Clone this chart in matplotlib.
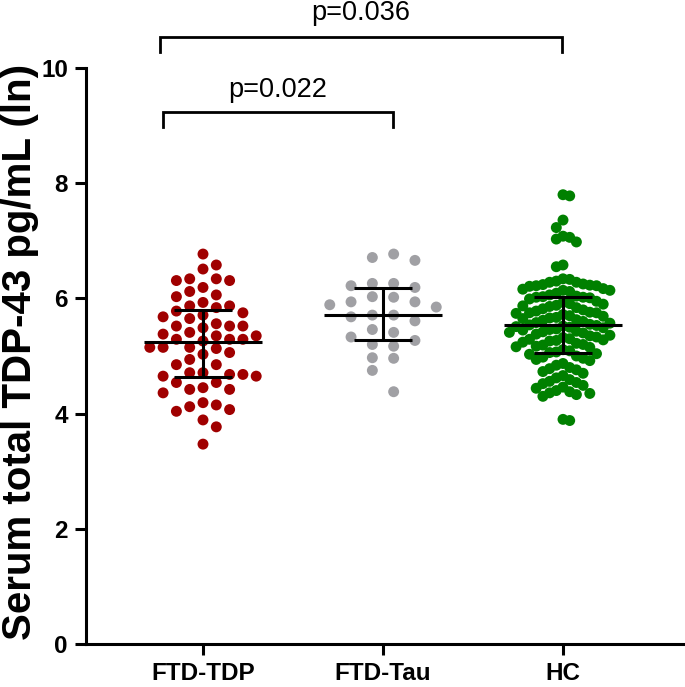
import matplotlib
matplotlib.use("Agg")
import matplotlib.pyplot as plt
import numpy as np

plt.rcParams['font.family'] = ['Liberation Sans', 'DejaVu Sans']

categories = ["FTD-TDP", "FTD-Tau", "HC"]

ftd_tdp = [6.77, 6.58, 6.51, 6.34, 6.34, 6.31, 6.31, 6.19, 6.12, 6.06, 6.03, 5.93,
           5.87, 5.87, 5.84, 5.78, 5.75, 5.71, 5.68, 5.65, 5.56, 5.52, 5.52, 5.52,
           5.49, 5.41, 5.38, 5.35, 5.35, 5.29, 5.29, 5.29, 5.26, 5.15, 5.13, 5.15,
           5.15, 5.06, 5.03, 4.94, 4.85, 4.85, 4.71, 4.71, 4.68, 4.68, 4.65, 4.65,
           4.54, 4.54, 4.45, 4.42, 4.42, 4.36, 4.19, 4.15, 4.12, 4.07, 4.04, 3.89,
           3.77, 3.47]

ftd_tau = [6.77, 6.71, 6.66, 6.26, 6.26, 6.22, 6.19, 6.03, 6.02, 5.94, 5.94, 5.89,
           5.85, 5.71, 5.71, 5.68, 5.61, 5.46, 5.41, 5.33, 5.27, 5.20, 5.17, 4.97,
           4.96, 4.75, 4.38]

hc = [7.80, 7.78, 7.36, 7.23, 7.08, 7.06, 7.03, 6.98, 6.58, 6.55, 6.34,
      6.33, 6.30, 6.28, 6.28, 6.25, 6.24, 6.23, 6.22, 6.22, 6.21,
      6.17, 6.16, 6.14, 6.14, 6.12, 6.09,
      6.06, 6.04, 6.03, 6.02, 6.02, 6.01, 5.99,
      5.95, 5.93, 5.91, 5.90, 5.88, 5.87, 5.86,
      5.84, 5.82, 5.80, 5.78, 5.76, 5.75, 5.75, 5.74,
      5.72, 5.70, 5.69, 5.67, 5.66, 5.65, 5.63, 5.62,
      5.60, 5.58, 5.57, 5.55, 5.54, 5.53, 5.52, 5.51, 5.50,
      5.49, 5.47, 5.46, 5.45, 5.43, 5.42, 5.41, 5.40, 5.38,
      5.36, 5.35, 5.33, 5.32, 5.30, 5.29, 5.28, 5.27, 5.26,
      5.24, 5.22, 5.20, 5.19, 5.17, 5.16, 5.15,
      5.11, 5.09, 5.07, 5.06, 5.04, 5.03,
      5.00, 4.98, 4.96, 4.94, 4.92,
      4.87, 4.84, 4.80, 4.78, 4.76,
      4.73, 4.70, 4.66, 4.62,
      4.59, 4.56, 4.54, 4.52, 4.49,
      4.46, 4.44, 4.40, 4.38, 4.36, 4.35, 4.33, 4.30,
      3.90, 3.88]

# median and interquartile range
medians = [5.25, 5.72, 5.53]
q_low = [4.64, 5.27, 5.05]
q_high = [5.79, 6.18, 6.03]

comparisons = [("p=0.022", 0, 1), ("p=0.036", 0, 2)]

colors = ["#A00000", "#A0A0A4", "#008000"]

# ---------------- layout ----------------
W, H = 685, 687
ax_left_px = 86
ax_bottom_px = 644
px_per_x = 180.0
px_per_y = 57.6
x0 = -(203 - ax_left_px) / px_per_x
x1 = x0 + (W - ax_left_px) / px_per_x
ytop = ax_bottom_px / px_per_y

fig = plt.figure(figsize=(W / 100, H / 100), dpi=100)
ax = fig.add_axes([ax_left_px / W, (H - ax_bottom_px) / H, (W - ax_left_px) / W, ax_bottom_px / H])
ax.set_xlim(x0, x1)
ax.set_ylim(0, ytop)


def swarm_offsets(values, dx_px, dmin_px, half=False):
    """Greedy grid beeswarm: each point takes the free column nearest the centre."""
    vals = np.asarray(values, dtype=float)
    order = np.argsort(-vals, kind="stable")
    placed = {}
    offs = np.zeros(len(vals))
    sign = 1
    for i in order:
        y = vals[i] * px_per_y
        cands = []
        for k in range(0, 40):
            if half:
                cands += [sign * (k + 0.5), -sign * (k + 0.5)]
            else:
                cands += [0] if k == 0 else [sign * k, -sign * k]
        for c in cands:
            col = placed.get(c, [])
            if all(abs(py - y) >= dmin_px for py in col):
                break
        placed.setdefault(c, []).append(y)
        offs[i] = c * dx_px / px_per_x
        if c != 0:
            sign = -sign
    return offs


groups = [ftd_tdp, ftd_tau, hc]
params = [(13.3, 12.0, False), (21.3, 12.0, True), (6.7, 11.0, False)]
for gi, (vals, (dx, dmin, half)) in enumerate(zip(groups, params)):
    offs = swarm_offsets(vals, dx, dmin, half)
    ax.scatter(gi + offs, vals, s=62, color=colors[gi], edgecolors="none", zorder=2)

# median + IQR
mw, cw = 0.33, 0.16
for gi in range(3):
    ax.plot([gi - mw, gi + mw], [medians[gi]] * 2, color="black", lw=2.2, zorder=3, solid_capstyle="butt")
    ax.plot([gi, gi], [q_low[gi], q_high[gi]], color="black", lw=2.2, zorder=3, solid_capstyle="butt")
    for q in (q_low[gi], q_high[gi]):
        ax.plot([gi - cw, gi + cw], [q, q], color="black", lw=2.2, zorder=3, solid_capstyle="butt")

# significance brackets
bracket_specs = [
    # (x_left, x_right, y_bar, y_leg, y_text)
    (-0.222, 1.056, 9.23, 8.97, 9.50),
    (-0.239, 1.994, 10.54, 10.28, 10.83),
]
for (label, a, b), (xl, xr, yb, yl, yt) in zip(comparisons, bracket_specs):
    ax.plot([xl, xl, xr, xr], [yl, yb, yb, yl], color="black", lw=2.0, clip_on=False,
            solid_joinstyle="miter")
    ax.text((xl + xr) / 2, yt, label, ha="center", va="baseline", fontsize=19.5)

# axes styling
for s in ("top", "right"):
    ax.spines[s].set_visible(False)
ax.spines["left"].set_linewidth(2.2)
ax.spines["bottom"].set_linewidth(2.2)
ax.spines["left"].set_bounds(0, 10)
ax.set_yticks([0, 2, 4, 6, 8, 10])
ax.set_xticks([0, 1, 2])
ax.set_xticklabels(categories)
ax.tick_params(axis="both", width=2.2, length=8, labelsize=17.5, pad=5)
for lab in ax.get_xticklabels() + ax.get_yticklabels():
    lab.set_fontweight("bold")

ax.text((20 - ax_left_px) / (W - ax_left_px), 5.07 / ytop, "Serum total TDP-43 pg/mL (ln)",
        transform=ax.transAxes, rotation=90, ha="center", va="center",
        fontsize=29, fontweight="bold")

fig.savefig("out.png", dpi=100)
